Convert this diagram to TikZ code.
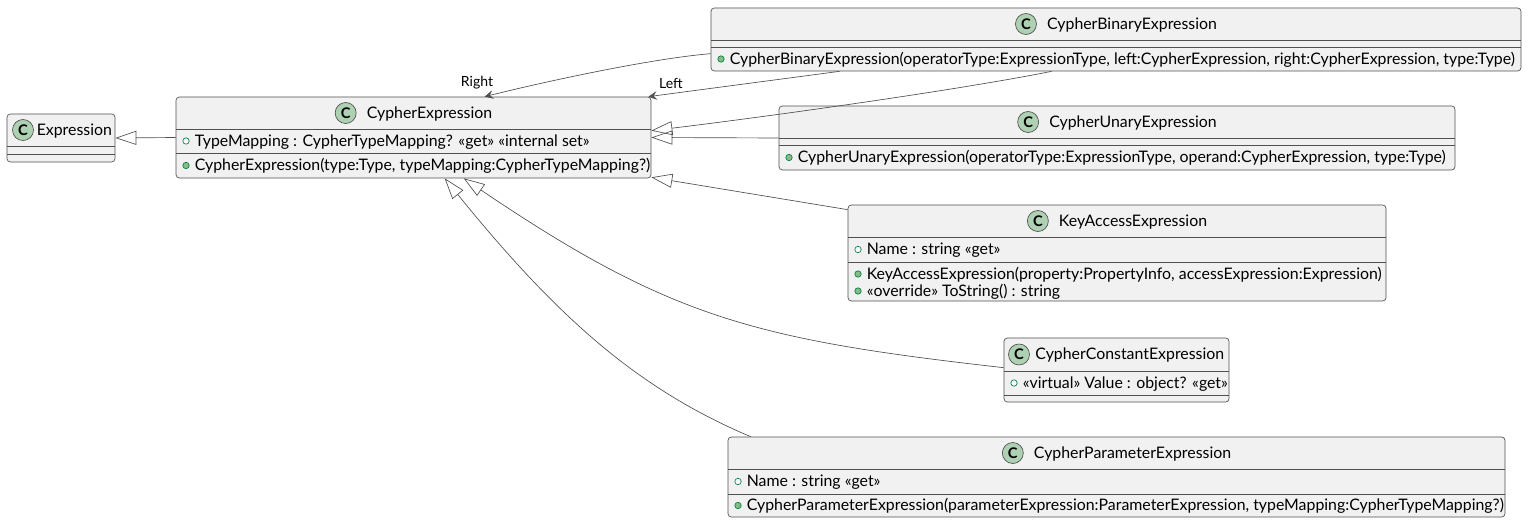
\documentclass[tikz,border=0pt]{standalone}
\usepackage{fontspec}
\setmainfont{Lato}
\usetikzlibrary{positioning,fit,calc,arrows.meta}

\definecolor{umlline}{RGB}{80,80,80}
\definecolor{umlfill}{RGB}{241,241,241}
\definecolor{badgefill}{RGB}{173,209,178}
\definecolor{dotline}{RGB}{3,128,72}
\definecolor{dotfill}{RGB}{132,190,132}

\newcommand{\umlfont}{\fontsize{11.9}{13}\selectfont}

\tikzset{
	classbox/.style={draw=umlline, fill=umlfill, rounded corners=2.5pt, inner sep=0pt, line width=0.5pt},
	divider/.style={draw=umlline, line width=0.5pt},
	badge/.style={circle, draw=umlline, fill=badgefill, minimum size=15.75pt, inner sep=0pt, line width=0.5pt, font=\bfseries\fontsize{11}{12}\selectfont},
	title/.style={inner sep=0pt, text height=8.4pt, text depth=2.6pt, yshift=-1.2pt, font=\umlfont},
	member/.style={inner sep=0pt, text height=8.4pt, text depth=2.6pt, yshift=-1.2pt, font=\umlfont},
	pubfield/.style={circle, draw=dotline, fill=white, minimum size=4.8pt, inner sep=0pt, line width=0.5pt},
	pubmethod/.style={circle, draw=dotline, fill=dotfill, minimum size=4.8pt, inner sep=0pt, line width=0.5pt},
	inherit/.style={draw=umlline, line width=0.5pt, -{Triangle[open, length=15.75pt, width=10.5pt]}},
	assoc/.style={draw=umlline, line width=0.5pt, -{Stealth[length=6.5pt, width=6.5pt, inset=2.5pt]}},
	role/.style={inner sep=0pt, font=\fontsize{10.5}{12}\selectfont}
}

\begin{document}
\begin{tikzpicture}[x=0.75pt,y=0.75pt,yscale=-1]
	\useasboundingbox (0,0) rectangle (1529,524);
	
	%Shape: Rectangle (Expression)
	\node [classbox, fit={(7,114) (115,162)}] (expr) {};
	\draw [divider] (7,146.7) -- (115,146.7) ;
	\draw [divider] (7,154) -- (115,154) ;
	%Shape: Rectangle (CypherExpression)
	\node [classbox, fit={(176,97) (651,178)}] (cexp) {};
	\draw [divider] (176,129) -- (651,129) ;
	\draw [divider] (176,153) -- (651,153) ;
	%Shape: Rectangle (CypherBinaryExpression)
	\node [classbox, fit={(711,8) (1521,71)}] (cbin) {};
	\draw [divider] (711,40) -- (1521,40) ;
	\draw [divider] (711,47) -- (1521,47) ;
	%Shape: Rectangle (CypherUnaryExpression)
	\node [classbox, fit={(779,106) (1455,170)}] (cun) {};
	\draw [divider] (779,138) -- (1455,138) ;
	\draw [divider] (779,145) -- (1455,145) ;
	%Shape: Rectangle (KeyAccessExpression)
	\node [classbox, fit={(848,205) (1386,301)}] (kacc) {};
	\draw [divider] (848,237) -- (1386,237) ;
	\draw [divider] (848,262) -- (1386,262) ;
	%Shape: Rectangle (CypherConstantExpression)
	\node [classbox, fit={(1004,338) (1229,402)}] (ccon) {};
	\draw [divider] (1004,371) -- (1229,371) ;
	\draw [divider] (1004,395) -- (1229,395) ;
	%Shape: Rectangle (CypherParameterExpression)
	\node [classbox, fit={(728,437) (1505,517)}] (cpar) {};
	\draw [divider] (728,469) -- (1505,469) ;
	\draw [divider] (728,494) -- (1505,494) ;
	
	% Text Node
	\node [badge] (expr-c) at (23,130) {C};
	\node [title, right=2pt of expr-c] (expr-t) {Expression};
	% Text Node
	\node [title] (cexp-t) at (429.5,113) {CypherExpression};
	\node [badge, left=7.5pt of cexp-t, yshift=1.2pt] (cexp-c) {C};
	\node [pubfield] (cexp-d1) at (186,141) {};
	\node [member, right=3.75pt of cexp-d1] (cexp-a1) {TypeMapping : CypherTypeMapping? «get» «internal set»};
	\node [pubmethod] (cexp-d2) at (186,165.5) {};
	\node [member, right=3.75pt of cexp-d2] (cexp-m1) {CypherExpression(type:Type, typeMapping:CypherTypeMapping?)};
	% Text Node
	\node [title] (cbin-t) at (1132,24) {CypherBinaryExpression};
	\node [badge, left=7.5pt of cbin-t, yshift=1.2pt] (cbin-c) {C};
	\node [pubmethod] (cbin-d1) at (721,59) {};
	\node [member, right=3.75pt of cbin-d1] (cbin-m1) {CypherBinaryExpression(operatorType:ExpressionType, left:CypherExpression, right:CypherExpression, type:Type)};
	% Text Node
	\node [title] (cun-t) at (1133,122) {CypherUnaryExpression};
	\node [badge, left=7.5pt of cun-t, yshift=1.2pt] (cun-c) {C};
	\node [pubmethod] (cun-d1) at (789,157.5) {};
	\node [member, right=3.75pt of cun-d1] (cun-m1) {CypherUnaryExpression(operatorType:ExpressionType, operand:CypherExpression, type:Type)};
	% Text Node
	\node [title] (kacc-t) at (1133,221) {KeyAccessExpression};
	\node [badge, left=7.5pt of kacc-t, yshift=1.2pt] (kacc-c) {C};
	\node [pubfield] (kacc-d1) at (858,249.5) {};
	\node [member, right=3.75pt of kacc-d1] (kacc-a1) {Name : string «get»};
	\node [pubmethod] (kacc-d2) at (858,274) {};
	\node [member, right=3.75pt of kacc-d2] (kacc-m1) {KeyAccessExpression(property:PropertyInfo, accessExpression:Expression)};
	\node [pubmethod] (kacc-d3) at (858,291) {};
	\node [member, right=3.75pt of kacc-d3] (kacc-m2) {«override» ToString() : string};
	% Text Node
	\node [badge] (ccon-c) at (1019,354.5) {C};
	\node [title, right=4pt of ccon-c] (ccon-t) {CypherConstantExpression};
	\node [pubfield] (ccon-d1) at (1014,383) {};
	\node [member, right=3.75pt of ccon-d1] (ccon-a1) {«virtual» Value : object? «get»};
	% Text Node
	\node [title] (cpar-t) at (1132.5,453) {CypherParameterExpression};
	\node [badge, left=7.5pt of cpar-t, yshift=1.2pt] (cpar-c) {C};
	\node [pubfield] (cpar-d1) at (738,481.5) {};
	\node [member, right=3.75pt of cpar-d1] (cpar-a1) {Name : string «get»};
	\node [pubmethod] (cpar-d2) at (738,505.5) {};
	\node [member, right=3.75pt of cpar-d2] (cpar-m1) {CypherParameterExpression(parameterExpression:ParameterExpression, typeMapping:CypherTypeMapping?)};
	% Text Node
	\node [role] (lbl-right) at (477,83) {Right};
	\node [role] (lbl-left) at (671,83) {Left};
	
	%Straight Lines
	\draw [inherit] (cexp.west) -- (expr.east) ;
	\draw [inherit] (cun.west) -- (cexp.east) ;
	\draw [inherit] ($(kacc.north west)+(0,5)$) -- ($(cexp.south east)+(0,-1)$) ;
	\draw [assoc] ($(cbin.south west)+(129,0)$) -- ($(cexp.north east)+(-3,0)$) ;
	%Curve Lines
	\draw [assoc] ($(cbin.north west)+(0,46)$) .. controls +(-60,5) and +(60,-15) .. ($(cexp.north west)+(309,0)$) ;
	\draw [inherit] ($(cbin.south west)+(341,0)$) .. controls +(-100,20) and +(100,-12) .. ($(cexp.north east)+(0,34)$) ;
	\draw [inherit] ($(ccon.north west)+(0,30)$) .. controls +(-248,-28) and +(207,140) .. ($(cexp.south west)+(288,0)$) ;
	\draw [inherit] ($(cpar.north west)+(23,0)$) .. controls +(-111,-47) and +(115,142) .. ($(cexp.south west)+(269,0)$) ;
	
\end{tikzpicture}
\end{document}
